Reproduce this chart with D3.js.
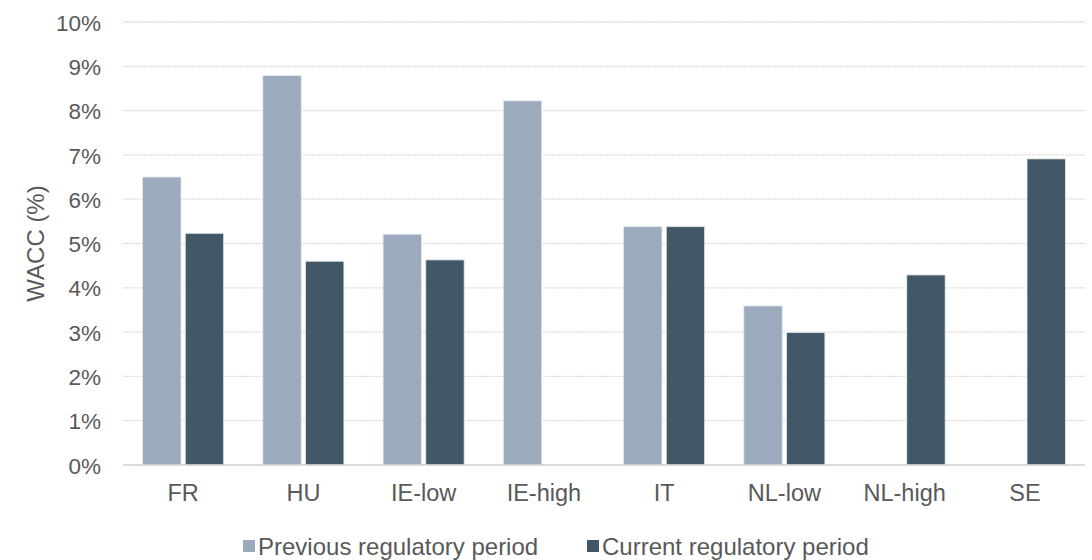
<!DOCTYPE html>
<html>
<head>
<meta charset="utf-8">
<script src="https://cdn.jsdelivr.net/npm/d3@7"></script>
<style>
  body { margin: 0; background: #fff; }
  svg text { font-family: "Liberation Sans", Arial, sans-serif; fill: #595959; }
</style>
</head>
<body>
<svg id="chart" width="1092" height="560"></svg>
<script>
// data
var categories = ["FR", "HU", "IE-low", "IE-high", "IT", "NL-low", "NL-high", "SE"];
var previousPeriod = [6.5, 8.79, 5.21, 8.22, 5.38, 3.59, null, null];
var currentPeriod = [5.23, 4.6, 4.63, null, 5.38, 2.99, 4.29, 6.91];
var seriesNames = ["Previous regulatory period", "Current regulatory period"];
var yTicks = [0, 1, 2, 3, 4, 5, 6, 7, 8, 9, 10];

var colors = ["#9caabe", "#425866"];

var margin = { top: 22, right: 7, bottom: 95, left: 123 };
var width = 1092 - margin.left - margin.right;
var height = 560 - margin.top - margin.bottom;

var svg = d3.select("#chart");
var g = svg.append("g")
    .attr("class", "main-group")
    .attr("transform", "translate(" + margin.left + "," + margin.top + ")");

var x = d3.scaleBand()
    .domain(categories)
    .range([0, width]);

// the pair of bars sits in the middle ~2/3 of each category slot
var groupPad = x.bandwidth() * 0.163;
var x1 = d3.scaleBand()
    .domain([0, 1])
    .range([groupPad, x.bandwidth() - groupPad])
    .paddingInner(0.1);

var y = d3.scaleLinear()
    .domain([0, 10])
    .range([height, 0]);

// gridlines
g.append("g")
    .attr("class", "grid")
    .selectAll("line")
    .data(yTicks.filter(function(d) { return d > 0; }))
    .enter().append("line")
    .attr("x1", 0)
    .attr("x2", width)
    .attr("y1", function(d) { return y(d); })
    .attr("y2", function(d) { return y(d); })
    .attr("stroke", "#dcdcdc")
    .attr("stroke-width", 1.3)
    .attr("stroke-dasharray", "2,1");

// y axis labels
var yAxis = g.append("g")
    .attr("class", "myYaxis")
    .call(d3.axisLeft(y)
        .tickValues(yTicks)
        .tickSize(0)
        .tickPadding(22)
        .tickFormat(function(d) { return d + "%"; }));
yAxis.select(".domain").remove();
yAxis.selectAll("text")
    .style("font-size", "22.5px")
    .attr("dy", "0.36em");

// bars
var rows = categories.map(function(c, i) {
    return { cat: c, vals: [previousPeriod[i], currentPeriod[i]] };
});

var groups = g.selectAll("g.cat")
    .data(rows)
    .enter().append("g")
    .attr("class", "cat")
    .attr("transform", function(d) { return "translate(" + x(d.cat) + ",0)"; });

groups.selectAll("rect")
    .data(function(d) {
        return d.vals.map(function(v, k) { return { k: k, v: v }; })
            .filter(function(e) { return e.v != null; });
    })
    .enter().append("rect")
    .attr("x", function(d) { return x1(d.k); })
    .attr("width", x1.bandwidth())
    .attr("y", function(d) { return y(d.v); })
    .attr("height", function(d) { return height - y(d.v); })
    .attr("fill", function(d) { return colors[d.k]; })
    .attr("stroke", "#e4e8ee")
    .attr("stroke-width", 0.8);

// baseline
g.append("line")
    .attr("x1", 0)
    .attr("x2", width)
    .attr("y1", y(0))
    .attr("y2", y(0))
    .attr("stroke", "#d0d0d0")
    .attr("stroke-width", 1.5);

// x axis labels
var xAxis = g.append("g")
    .attr("class", "myXaxis")
    .attr("transform", "translate(0," + height + ")")
    .call(d3.axisBottom(x).tickSize(0).tickPadding(19));
xAxis.select(".domain").remove();
xAxis.selectAll("text")
    .style("font-size", "23.5px");

// y axis title
svg.append("text")
    .attr("transform", "translate(44," + (margin.top + height / 2) + ") rotate(-90)")
    .attr("text-anchor", "middle")
    .style("font-size", "24px")
    .text("WACC (%)");

// legend
var legendX = [243, 587];
var legend = svg.append("g").attr("class", "legend");
seriesNames.forEach(function(name, i) {
    legend.append("rect")
        .attr("x", legendX[i])
        .attr("y", 540)
        .attr("width", 12)
        .attr("height", 12)
        .attr("fill", colors[i]);
    legend.append("text")
        .attr("x", legendX[i] + 15)
        .attr("y", 555)
        .style("font-size", "24px")
        .text(name);
});
</script>
</body>
</html>
